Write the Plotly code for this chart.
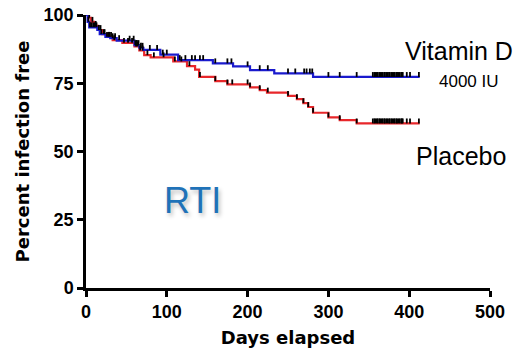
import numpy as np
import plotly.graph_objects as go

# Kaplan-Meier step data (day of change, percent infection free)
vitd_days = [0, 2, 4, 14, 17, 24, 30, 38, 60, 66, 71, 92, 114, 157, 182, 203, 233, 281, 413]
vitd_surv = [100, 97.5, 95.5, 94.5, 93, 92, 91.5, 90.6, 89, 88, 87.2, 85.5, 83.5, 82.3, 81.2, 79.8, 78.6, 77.3, 77.3]

plac_days = [0, 3, 6, 10, 15, 20, 26, 33, 45, 60, 66, 72, 80, 108, 125, 135, 140, 160, 175, 203, 215,
             224, 250, 261, 269, 275, 281, 300, 314, 335, 413]
plac_surv = [100, 99, 97.5, 96, 94.5, 93, 92, 90.8, 89.8, 88.5, 87, 85.3, 84.5, 83, 81.3, 80, 77.3, 75.8,
             74.6, 73.5, 72.5, 71.6, 70.4, 69.2, 67.7, 66.3, 64.2, 62.5, 61.5, 60.3, 60.3]

# censored observation days
vitd_censor = [3, 5, 7, 9, 11, 13, 16, 19, 22, 26, 29, 33, 36, 54, 59, 61, 63, 65, 68, 70, 79, 88, 95, 100,
               116, 123, 131, 135, 141, 145, 160, 175, 180, 200, 215, 225, 250, 259, 270, 273, 277, 280,
               300, 314, 335, 355, 357, 358, 360, 361, 363, 364, 366, 367, 369, 370, 372, 373, 375, 376,
               378, 379, 381, 382, 384, 385, 387, 388, 390, 391, 392, 397, 401, 412]
plac_censor = [2, 4, 8, 12, 18, 23, 28, 31, 35, 41, 47, 52, 57, 62, 64, 67, 70, 76, 84, 96, 110, 118, 128,
               141, 160, 175, 181, 200, 203, 215, 225, 250, 261, 269, 275, 281, 300, 314, 335, 355, 357,
               358, 360, 361, 363, 364, 366, 367, 369, 370, 372, 373, 375, 376, 378, 379, 381, 382, 384,
               385, 387, 388, 390, 391, 392, 397, 401, 412]

x_ticks = [0, 100, 200, 300, 400, 500]
y_ticks = [0, 25, 50, 75, 100]

TICK_H = 1.8  # censor tick height in percent units


def step_value(days, surv, d):
    i = np.searchsorted(np.array(days), d, side="right") - 1
    return surv[max(i, 0)]


def censor_segments(days, surv, cdays):
    xs, ys = [], []
    for d in cdays:
        v = step_value(days, surv, d)
        xs += [d, d, None]
        ys += [v, v + TICK_H, None]
    return xs, ys


fig = go.Figure()

fig.add_trace(go.Scatter(x=plac_days, y=plac_surv, mode="lines", line=dict(color="#e8262a", width=2.2, shape="hv"),
                         name="Placebo", hoverinfo="skip"))
fig.add_trace(go.Scatter(x=vitd_days, y=vitd_surv, mode="lines", line=dict(color="#1a1acd", width=2.2, shape="hv"),
                         name="Vitamin D", hoverinfo="skip"))

for days, surv, cd in [(plac_days, plac_surv, plac_censor), (vitd_days, vitd_surv, vitd_censor)]:
    xs, ys = censor_segments(days, surv, cd)
    fig.add_trace(go.Scatter(x=xs, y=ys, mode="lines", line=dict(color="black", width=1.8),
                             hoverinfo="skip", showlegend=False))

tick_font = dict(family="Liberation Sans, Arial", size=18, color="black", weight="bold")
title_font = dict(family="DejaVu Sans", size=18, color="black", weight="bold")

fig.update_xaxes(range=[0, 500], tickvals=x_ticks, ticks="outside", ticklen=6, tickwidth=2.5,
                 tickcolor="black", showline=True, linewidth=2.5, linecolor="black", showgrid=False,
                 zeroline=False, tickfont=tick_font, automargin=False, ticklabeloverflow="allow",
                 title=dict(text="Days elapsed", font=title_font, standoff=11))
fig.update_yaxes(range=[0, 100], tickvals=y_ticks, ticks="outside", ticklen=6, tickwidth=2.5,
                 tickcolor="black", showline=True, linewidth=2.5, linecolor="black", showgrid=False,
                 zeroline=False, tickfont=tick_font, automargin=False, ticklabeloverflow="allow",
                 title=dict(text="Percent infection free", font=title_font, standoff=10))

ann_font = dict(family="Liberation Sans, Arial", color="black")
fig.add_annotation(text="Vitamin D", x=0.923, y=0.868, xref="paper", yref="paper", showarrow=False,
                   xanchor="center", yanchor="middle", font=dict(**ann_font, size=25))
fig.add_annotation(text="4000 IU", x=0.948, y=0.755, xref="paper", yref="paper", showarrow=False,
                   xanchor="center", yanchor="middle", font=dict(**ann_font, size=17))
fig.add_annotation(text="Placebo", x=0.928, y=0.485, xref="paper", yref="paper", showarrow=False,
                   xanchor="center", yanchor="middle", font=dict(**ann_font, size=25))
fig.add_annotation(text="RTI", x=0.264, y=0.32, xref="paper", yref="paper", showarrow=False,
                   xanchor="center", yanchor="middle",
                   font=dict(family="Liberation Sans, Arial", size=36, color="#1f72b8",
                             shadow="2px 3px 4px rgba(0,0,0,0.25)"))

fig.update_layout(width=528, height=357, margin=dict(l=86, r=38, t=15, b=69),
                  paper_bgcolor="white", plot_bgcolor="white", showlegend=False)

# remove the default 8px page margin so the figure fills the window exactly
fig.write_html("out.html", config={"displayModeBar": False},
               post_script="document.body.style.margin='0';")
